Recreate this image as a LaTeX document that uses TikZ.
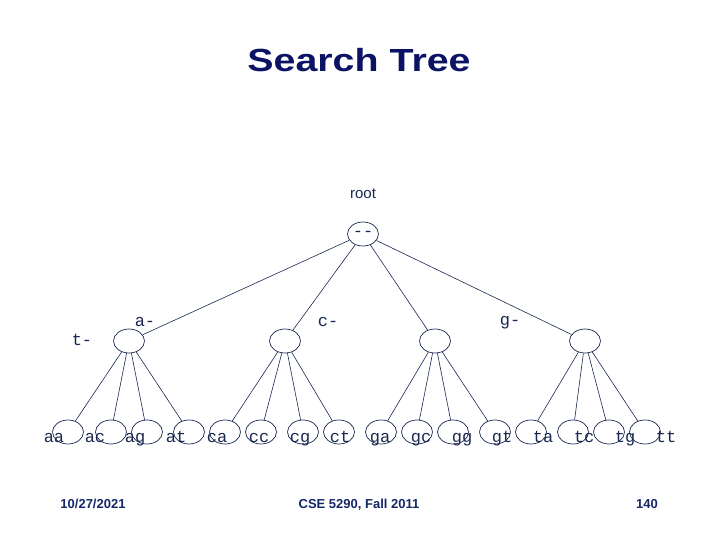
\documentclass[tikz,border=0pt]{standalone}
\usepackage{fontspec}
\setmainfont{Liberation Sans}
\newfontfamily\monof{Liberation Mono}
\usetikzlibrary{shapes.geometric}
\definecolor{navy}{RGB}{12,18,100}
\definecolor{foot}{RGB}{20,40,105}
\definecolor{ink}{RGB}{25,40,80}
\tikzset{
  ell/.style={draw=ink, line width=0.7pt, ellipse, minimum width=31pt, minimum height=24pt, inner sep=0pt},
  lbl/.style={font=\monof\fontsize{17}{17}\selectfont, text=ink, inner sep=0pt, anchor=base},
  edge/.style={draw=ink, line width=0.6pt},
  foottxt/.style={font=\bfseries\fontsize{13}{13}\selectfont, text=foot, inner sep=0pt, anchor=base}
}
\begin{document}
\begin{tikzpicture}[x=1pt,y=-1pt]
\useasboundingbox (0,0) rectangle (720,540);
\node[font=\bfseries\fontsize{32}{32}\selectfont, text=navy, inner sep=0pt, anchor=base] (title) at (359,72) {\scalebox{1.23}[1]{Search Tree}};
\node[font=\fontsize{15}{15}\selectfont, text=ink, inner sep=0pt, anchor=base] (rootlbl) at (363,199) {root};
\node[ell, font=\monof\fontsize{17}{17}\selectfont, text=ink] (root) at (363,234) {-\kern0pt-};
% level 1
\node[ell] (a) at (129,341) {};
\node[ell] (c) at (285,341) {};
\node[ell] (g) at (435,341) {};
\node[ell] (t) at (585,341) {};
\node[lbl] (la) at (145,326) {a-};
\node[lbl] (lc) at (328,326) {c-};
\node[lbl] (lg) at (510,325) {g-};
\node[lbl] (lt) at (82,345) {t-};
% leaves
\foreach \n/\x/\lx in {aa/68/54, ac/111/95, ag/147/135, at/189/176, ca/225/217, cc/261/259, cg/303/300, ct/339/340, ga/381/380, gc/417/421, gg/453/462, gt/495/502, ta/531/543, tc/573/584, tg/609/625, tt/645/666}{
  \node[ell] (\n) at (\x,432) {};
  \node[lbl] (l\n) at (\lx,442) {\n};
}
% edges
\foreach \p in {a,c,g,t}{ \draw[edge] (root) -- (\p); }
\foreach \p in {a,c,g,t}{
  \foreach \q in {a,c,g,t}{ \draw[edge] (\p) -- (\p\q); }
}
% footer
\node[foottxt] (date) at (93,508) {10/27/2021};
\node[foottxt] (course) at (359,508) {CSE 5290, Fall 2011};
\node[foottxt] (page) at (647,508) {140};
\end{tikzpicture}
\end{document}
